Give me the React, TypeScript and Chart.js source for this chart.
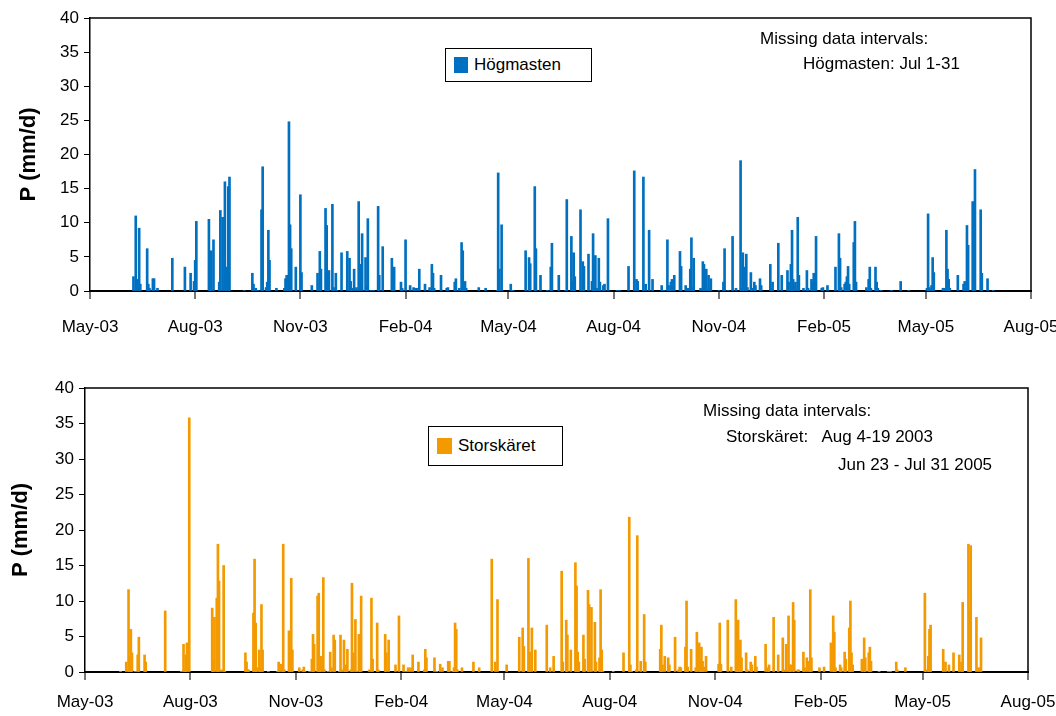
import React, { useEffect, useRef } from "react";
import { Chart, registerables } from "chart.js";

Chart.register(...registerables);

// Day offsets counted from 1 May 2003
const tickDays = [0, 92, 184, 276, 366, 458, 550, 642, 731, 823];
const tickLabels = ["May-03", "Aug-03", "Nov-03", "Feb-04", "May-04", "Aug-04", "Nov-04", "Feb-05", "May-05", "Aug-05"];
const yTicks = [0, 5, 10, 15, 20, 25, 30, 35, 40];

const hogmastenDays = [
  38, 40, 41, 43, 44, 50, 51, 52, 55, 56, 59, 72, 83, 88, 91, 92, 93, 104, 105, 106, 108, 113, 114, 116, 118, 119, 121, 122,
  135, 142, 143, 145, 147, 150, 151, 154, 155, 156, 157, 163, 170, 171, 172, 174, 175, 176, 180, 184, 185, 194, 199, 201,
  202, 206, 207, 208, 209, 212, 213, 215, 216, 220, 225, 227, 228, 229, 231, 233, 235, 236, 238, 241, 242, 243, 246, 248,
  252, 253, 256, 264, 265, 266, 272, 273, 276, 280, 283, 284, 286, 288, 293, 297, 299, 300, 301, 307, 312, 313, 319, 320,
  323, 325, 326, 327, 328, 329, 340, 346, 356, 357, 358, 360, 368, 369, 370, 381, 384, 385, 389, 390, 394, 400, 403, 404,
  410, 416, 417, 421, 422, 423, 424, 429, 431, 432, 436, 439, 440, 441, 442, 443, 445, 446, 449, 450, 453, 461, 463, 471,
  476, 478, 479, 484, 486, 489, 492, 500, 502, 505, 506, 508, 509, 511, 516, 517, 521, 523, 525, 526, 527, 528, 534, 536,
  537, 538, 539, 541, 542, 543, 550, 554, 555, 558, 562, 565, 569, 570, 571, 572, 574, 575, 578, 579, 581, 582, 586, 587,
  595, 596, 597, 602, 605, 610, 611, 613, 614, 615, 616, 617, 619, 620, 624, 627, 628, 631, 632, 633, 635, 640, 641, 645,
  652, 655, 656, 657, 660, 661, 662, 663, 664, 668, 669, 670, 679, 681, 682, 683, 687, 688, 689, 692, 701, 709, 716, 732,
  733, 734, 736, 737, 738, 746, 747, 749, 750, 751, 752, 759, 764, 765, 767, 768, 772, 773, 774, 779, 780, 785, 790,
];
const hogmastenValues = [
  2.1, 11.0, 1.7, 9.2, 1.0, 6.2, 1.0, 0.4, 1.8, 1.8, 0.4, 4.8, 3.5, 2.6, 1.4, 4.5, 10.2, 10.5, 2.6, 5.9, 7.5, 1.3, 11.8, 10.8, 16.0, 3.5, 15.3, 16.7,
  0.1, 2.6, 1.0, 0.4, 0.1, 11.9, 18.2, 0.5, 1.3, 8.9, 4.5, 0.4, 0.4, 1.8, 2.3, 24.8, 9.7, 6.2, 3.5, 14.1, 2.7, 0.8, 2.6, 5.8,
  3.2, 12.1, 9.6, 2.6, 3.0, 12.7, 0.5, 2.6, 0.1, 5.6, 5.8, 4.8, 1.4, 0.4, 3.2, 0.5, 13.1, 3.9, 8.4, 4.9, 0.8, 10.6, 0.1, 0.1,
  12.4, 2.3, 6.5, 4.8, 1.3, 3.5, 1.3, 0.4, 7.5, 0.8, 0.5, 0.4, 0.4, 3.2, 1.0, 0.5, 3.9, 2.6, 0.4, 2.3, 0.4, 0.5, 1.3, 1.8,
  0.4, 7.1, 5.9, 0.4, 1.4, 0.4, 0.5, 0.4, 0.1, 17.3, 3.2, 9.7, 1.0, 0.1, 0.1, 5.9, 4.9, 4.0, 15.3, 6.2, 2.3, 0.1, 3.5, 7.0,
  2.3, 0.1, 13.4, 8.0, 1.4, 5.6, 2.1, 11.9, 4.3, 3.6, 5.4, 1.4, 8.4, 0.4, 5.2, 0.4, 4.8, 1.3, 0.8, 1.0, 10.6, 0.1, 0.1, 3.6,
  17.6, 1.7, 1.4, 16.7, 1.0, 8.9, 1.7, 0.8, 0.1, 7.5, 0.8, 1.3, 1.7, 2.3, 5.8, 3.6, 0.8, 0.4, 3.2, 7.8, 0.5, 4.8, 0.4, 4.3,
  3.9, 1.3, 3.2, 2.3, 0.4, 1.8, 0.1, 1.3, 6.2, 0.1, 8.0, 0.4, 19.1, 0.4, 5.6, 3.5, 5.4, 0.5, 2.7, 0.4, 1.3, 0.8, 1.8, 0.8,
  3.9, 0.4, 1.3, 7.0, 2.3, 3.0, 1.3, 3.9, 8.9, 1.7, 0.8, 1.3, 10.8, 2.3, 0.4, 3.0, 0.4, 1.7, 1.3, 2.6, 8.0, 0.4, 0.5, 0.8,
  3.5, 8.4, 4.8, 0.5, 1.0, 1.3, 2.1, 3.6, 1.0, 7.1, 10.2, 1.3, 0.5, 1.7, 3.5, 0.4, 3.5, 1.3, 0.4, 0.1, 0.1, 1.4, 0.1, 0.4,
  11.3, 0.5, 0.8, 4.9, 2.7, 0.4, 0.4, 8.9, 3.2, 1.7, 0.4, 2.3, 1.0, 1.4, 9.6, 6.7, 13.1, 8.3, 17.8, 11.9, 2.6, 1.8, 0.1,
];

const storskaretDays = [
  31, 36, 38, 39, 40, 41, 44, 46, 47, 52, 53, 70, 84, 86, 87, 88, 89, 91, 111, 112, 113, 115, 116, 117, 119, 121, 122,
  140, 141, 142, 143, 147, 148, 149, 150, 152, 153, 154, 155, 160, 168, 169, 170, 172, 173, 174, 178, 179, 180, 181, 187,
  190, 191, 192, 196, 198, 199, 200, 203, 204, 205, 206, 208, 209, 212, 214, 215, 217, 218, 222, 223, 224, 226, 227, 228,
  229, 232, 233, 234, 236, 237, 239, 240, 241, 248, 250, 251, 255, 256, 262, 263, 265, 271, 274, 278, 280, 282, 284, 286,
  291, 296, 297, 298, 305, 307, 310, 312, 317, 318, 321, 322, 323, 324, 325, 329, 339, 344, 355, 358, 360, 368, 379, 382,
  383, 387, 388, 390, 393, 403, 406, 409, 416, 417, 420, 421, 424, 428, 429, 430, 431, 435, 436, 439, 440, 442, 445, 446,
  449, 450, 451, 452, 461, 470, 475, 476, 477, 481, 482, 485, 488, 489, 502, 503, 504, 506, 509, 510, 515, 518, 519, 520,
  524, 525, 526, 529, 533, 534, 536, 537, 538, 539, 540, 542, 553, 554, 555, 561, 564, 568, 569, 570, 571, 572, 573, 577,
  578, 581, 582, 585, 586, 594, 596, 597, 601, 605, 609, 610, 612, 614, 615, 616, 618, 619, 622, 623, 627, 628, 630, 632,
  633, 634, 641, 645, 651, 653, 654, 655, 659, 660, 663, 664, 667, 668, 669, 670, 678, 680, 681, 684, 685, 686, 693, 701,
  703, 708, 709, 716, 733, 734, 736, 737, 738, 749, 751, 754, 758, 763, 765, 766, 771, 772, 773, 778, 780, 782,
];
const storskaretValues = [
  0.1, 1.4, 11.6, 2.2, 6.0, 2.7, 0.1, 2.4, 4.9, 2.4, 1.4, 8.6, 0.1, 3.9, 0.3, 2.4, 4.1, 35.8, 9.0, 1.5, 7.7, 10.4, 18.0, 12.8, 0.3, 15.0, 0.1,
  2.7, 1.4, 0.3, 0.3, 8.3, 15.9, 6.9, 0.6, 3.1, 0.6, 9.5, 3.1, 0.1, 0.1, 1.4, 1.1, 1.1, 18.0, 0.3, 5.8, 2.0, 13.2, 3.1, 0.6,
  0.3, 0.7, 0.1, 0.1, 1.8, 5.3, 3.9, 10.7, 11.1, 1.1, 2.2, 13.3, 0.3, 0.1, 2.8, 0.6, 5.2, 4.5, 0.1, 5.2, 0.3, 4.5, 1.0, 0.7,
  3.2, 0.3, 12.5, 2.7, 7.4, 0.1, 5.3, 1.0, 10.7, 0.3, 10.4, 1.8, 6.9, 0.3, 5.3, 2.7, 4.5, 1.0, 7.9, 1.0, 0.1, 0.6, 0.6, 2.4,
  1.4, 0.3, 3.2, 2.0, 2.0, 0.1, 1.1, 0.6, 1.5, 1.5, 0.1, 0.6, 6.9, 6.0, 0.3, 0.6, 1.4, 0.6, 15.9, 1.4, 10.2, 1.0, 4.9, 6.2,
  3.6, 16.0, 2.8, 6.2, 3.1, 6.6, 0.6, 2.2, 14.2, 1.4, 7.3, 5.2, 3.1, 15.4, 12.1, 2.8, 1.4, 5.2, 1.8, 11.5, 9.5, 9.1, 7.0, 1.4,
  2.0, 11.6, 3.1, 0.1, 0.1, 2.7, 21.8, 1.0, 0.1, 0.3, 19.2, 1.5, 8.1, 1.4, 3.2, 6.6, 1.0, 2.2, 2.0, 1.0, 4.9, 0.3, 0.7, 0.6,
  3.5, 10.0, 0.7, 3.2, 0.6, 5.6, 4.1, 1.5, 3.5, 1.5, 0.7, 2.2, 1.1, 6.9, 1.1, 7.3, 0.7, 10.2, 1.0, 7.3, 4.1, 4.5, 2.0, 2.7,
  0.3, 1.4, 1.0, 2.2, 0.7, 3.9, 0.6, 1.0, 7.7, 2.4, 4.8, 0.3, 3.9, 7.9, 1.0, 1.0, 9.8, 7.3, 0.3, 0.3, 2.8, 0.6, 2.0, 1.5,
  11.6, 2.0, 0.6, 0.7, 4.1, 7.9, 5.6, 0.6, 1.0, 0.6, 2.8, 1.8, 6.2, 10.0, 2.7, 1.0, 1.8, 4.8, 2.0, 2.7, 3.5, 1.5, 0.1, 0.1,
  0.1, 1.4, 0.3, 0.6, 11.1, 0.3, 2.2, 6.0, 6.6, 3.2, 1.4, 1.0, 2.7, 2.4, 1.4, 9.8, 18.0, 8.6, 17.8, 7.7, 0.6, 4.8,
];

const FONT = "'Liberation Sans', Arial, Helvetica, sans-serif";

type Geo = {
  top: number; height: number;
  areaLeft: number; areaRight: number; areaTop: number; areaBottom: number;
  titlePad: number; xPad: number;
};

type PanelProps = {
  geo: Geo;
  days: number[];
  values: number[];
  color: string;
  name: string;
};

const framePlugin = {
  id: "frame",
  afterDraw(chart: any) {
    const { ctx, chartArea } = chart;
    ctx.save();
    ctx.strokeStyle = "#000";
    ctx.lineWidth = 1.5;
    ctx.beginPath();
    ctx.moveTo(chartArea.left, chartArea.top);
    ctx.lineTo(chartArea.right, chartArea.top);
    ctx.lineTo(chartArea.right, chartArea.bottom);
    ctx.stroke();
    ctx.restore();
  },
};

function Panel({ geo, days, values, color, name }: PanelProps) {
  const ref = useRef<HTMLCanvasElement | null>(null);
  useEffect(() => {
    if (!ref.current) return;
    const points = days.map((d, i) => ({ x: d, y: values[i] }));
    const chart = new Chart(ref.current, {
      type: "bar",
      data: {
        datasets: [
          {
            label: name,
            data: points as any,
            backgroundColor: color,
            borderWidth: 0,
            barThickness: 2,
          },
        ],
      },
      options: {
        responsive: false,
        animation: false,
        devicePixelRatio: 1,
        layout: { padding: { top: geo.areaTop, right: 1056 - geo.areaRight, left: 0, bottom: 0 } },
        plugins: { legend: { display: false }, tooltip: { enabled: false } },
        scales: {
          x: {
            type: "linear",
            min: 0,
            max: 823,
            offset: false,
            afterBuildTicks: (s: any) => {
              s.ticks = tickDays.map((v) => ({ value: v }));
            },
            afterFit: (s: any) => {
              s.height = geo.height - geo.areaBottom;
              s.paddingLeft = 0;
              s.paddingRight = 0;
            },
            ticks: {
              autoSkip: false,
              maxRotation: 0,
              padding: geo.xPad,
              color: "#000",
              font: { family: FONT, size: 17 },
              callback: (v: any) => {
                const i = tickDays.indexOf(Number(v));
                return i >= 0 ? tickLabels[i] : "";
              },
            },
            grid: { offset: false, drawOnChartArea: false, drawTicks: true, tickLength: 8, color: "#777", lineWidth: 2 },
            border: { display: true, color: "#000", width: 2 },
          },
          y: {
            min: 0,
            max: 40,
            afterBuildTicks: (s: any) => {
              s.ticks = yTicks.map((v) => ({ value: v }));
            },
            afterFit: (s: any) => {
              s.width = geo.areaLeft;
              s.paddingTop = 0;
              s.paddingBottom = 0;
            },
            ticks: { padding: 5, color: "#000", font: { family: FONT, size: 17 } },
            grid: { drawOnChartArea: false, drawTicks: true, tickLength: 6, color: "#000", lineWidth: 1 },
            border: { display: true, color: "#000", width: 1.5 },
            title: {
              display: true,
              text: "P (mm/d)",
              color: "#000",
              font: { family: FONT, size: 22, weight: "bold" },
              padding: { top: geo.titlePad, bottom: 0 },
            },
          },
        },
      },
      plugins: [framePlugin],
    });
    return () => chart.destroy();
  }, []);
  return (
    <canvas
      ref={ref}
      width={1056}
      height={geo.height}
      style={{ position: "absolute", left: 0, top: geo.top, width: 1056, height: geo.height }}
    />
  );
}

const topGeo: Geo = { top: 0, height: 340, areaLeft: 90, areaRight: 1031, areaTop: 18, areaBottom: 291, titlePad: 16, xPad: 18 };
const bottomGeo: Geo = { top: 340, height: 376, areaLeft: 85, areaRight: 1028, areaTop: 48, areaBottom: 332, titlePad: 8, xPad: 12 };

const textStyle: React.CSSProperties = {
  position: "absolute",
  fontFamily: FONT,
  fontSize: 17,
  lineHeight: "20px",
  color: "#000",
  whiteSpace: "pre",
};

function LegendBox(props: { left: number; top: number; width: number; height: number; color: string; label: string; sq: number }) {
  const { left, top, width, height, color, label, sq } = props;
  return (
    <div
      style={{
        position: "absolute",
        left,
        top,
        width,
        height,
        boxSizing: "border-box",
        border: "1px solid #000",
        background: "#fff",
        fontFamily: FONT,
        fontSize: 17,
        display: "flex",
        alignItems: "center",
      }}
    >
      <div style={{ width: sq, height: 16, background: color, marginLeft: 8, marginRight: 6 }} />
      <span>{label}</span>
    </div>
  );
}

export default function App() {
  return (
    <div style={{ position: "absolute", left: 0, top: 0, width: 1056, height: 716, background: "#fff", overflow: "hidden" }}>
      <Panel geo={topGeo} days={hogmastenDays} values={hogmastenValues} color="#0070c0" name="Högmasten" />
      <Panel geo={bottomGeo} days={storskaretDays} values={storskaretValues} color="#f39a00" name="Storskäret" />

      <LegendBox left={445} top={48} width={147} height={34} color="#0070c0" label="Högmasten" sq={14} />
      <div style={{ ...textStyle, left: 760, top: 29 }}>Missing data intervals:</div>
      <div style={{ ...textStyle, left: 803, top: 54 }}>Högmasten: Jul 1-31</div>

      <LegendBox left={428} top={426} width={135} height={40} color="#f39a00" label="Storskäret" sq={15} />
      <div style={{ ...textStyle, left: 703, top: 401 }}>Missing data intervals:</div>
      <div style={{ ...textStyle, left: 726, top: 427 }}>{"Storskäret:   Aug 4-19 2003"}</div>
      <div style={{ ...textStyle, left: 838, top: 455 }}>Jun 23 - Jul 31 2005</div>
    </div>
  );
}
